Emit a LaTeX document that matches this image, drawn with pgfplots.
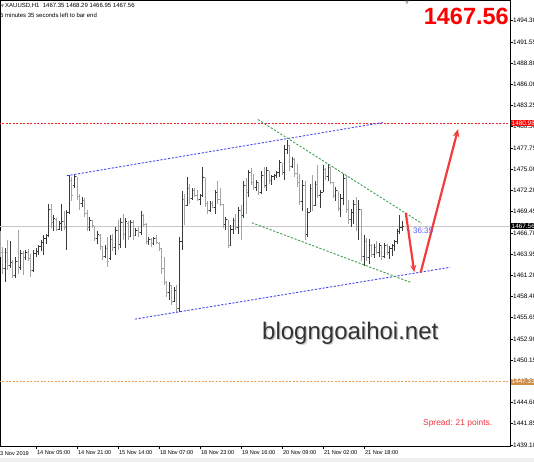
\documentclass[border=0pt]{standalone}
\usepackage{fontspec}
\setmainfont{Liberation Sans}
\newfontfamily\dejavu{DejaVu Sans}
\usepackage{pgfplots}
\pgfplotsset{compat=1.18}
\usepackage{pgfplotstable}
\usetikzlibrary{arrows.meta}
\definecolor{upc}{HTML}{3A3A3A}
\definecolor{dnc}{HTML}{A4A4A4}
\definecolor{chanblue}{HTML}{4848F0}
\definecolor{chgreen}{HTML}{3E9E4E}
\definecolor{lvlred}{rgb}{0.95,0.15,0.15}
\definecolor{lvlorg}{rgb}{0.94,0.62,0.30}
\definecolor{boxorg}{HTML}{D08C48}
\definecolor{arrowred}{HTML}{F53A3A}
\definecolor{spreadred}{HTML}{F0323C}
\definecolor{timerblue}{HTML}{5A5AFF}
\definecolor{wmark}{HTML}{323232}
\definecolor{curline}{HTML}{C8C8C8}

\pgfdeclareplotmark{otick}{\pgfpathmoveto{\pgfqpoint{-1.4pt}{0pt}}\pgfpathlineto{\pgfqpoint{0pt}{0pt}}\pgfusepathqstroke}
\pgfdeclareplotmark{ctick}{\pgfpathmoveto{\pgfqpoint{0pt}{0pt}}\pgfpathlineto{\pgfqpoint{1.4pt}{0pt}}\pgfusepathqstroke}

\pgfplotstableread{
i O H L C
-14 1466.5 1466.9 1463.6 1464.2
-13 1464.2 1464.9 1461.4 1462.0
-12 1462.0 1464.7 1460.3 1464.1
-11 1464.1 1465.8 1461.9 1462.5
-10 1462.5 1465.6 1462.1 1462.8
-9 1462.8 1463.2 1460.8 1461.2
-8 1461.2 1463.6 1460.8 1463.0
-7 1463.0 1467.1 1461.4 1462.2
-6 1462.2 1464.5 1461.9 1464.0
-5 1464.0 1464.3 1461.2 1463.5
-4 1463.5 1464.5 1463.2 1464.2
-3 1464.2 1464.6 1463.0 1463.4
-2 1463.4 1464.0 1461.0 1461.8
-1 1461.8 1464.5 1461.7 1464.0
0 1464.0 1464.7 1463.6 1464.3
1 1464.3 1465.1 1463.8 1464.9
2 1464.9 1465.8 1464.3 1465.5
3 1465.5 1466.4 1463.8 1466.0
4 1466.0 1466.6 1465.3 1466.4
5 1466.4 1470.5 1466.2 1469.8
6 1469.8 1470.5 1467.3 1468.0
7 1468.0 1469.0 1466.9 1468.6
8 1468.4 1468.6 1466.9 1467.2
9 1467.2 1468.2 1467.1 1467.9
10 1467.9 1470.5 1466.9 1468.2
11 1468.2 1469.5 1467.1 1467.4
12 1467.4 1469.7 1464.5 1469.4
13 1469.4 1474.2 1469.2 1473.5
14 1473.5 1474.0 1470.8 1471.5
15 1472.8 1474.4 1472.5 1474.0
16 1474.0 1474.0 1471.0 1471.4
17 1471.4 1471.8 1469.7 1470.5
18 1470.5 1471.4 1470.1 1470.9
19 1470.9 1471.2 1468.8 1469.2
20 1469.2 1469.7 1466.9 1467.4
21 1467.4 1468.8 1466.9 1468.3
22 1468.3 1468.4 1467.3 1467.6
23 1467.3 1467.6 1465.6 1466.0
24 1466.0 1466.9 1465.3 1466.5
25 1466.4 1466.6 1464.5 1464.9
26 1464.9 1464.9 1463.2 1463.6
27 1463.6 1465.1 1463.4 1464.6
28 1464.6 1466.2 1462.3 1463.0
29 1463.3 1466.4 1463.2 1465.8
30 1465.8 1466.6 1464.3 1464.8
31 1464.8 1467.5 1463.8 1467.0
32 1467.0 1468.4 1464.5 1465.2
33 1465.2 1468.6 1464.7 1468.0
34 1468.0 1469.2 1465.8 1466.5
35 1466.5 1468.6 1464.7 1468.2
36 1467.9 1468.2 1465.8 1466.2
37 1466.2 1468.4 1466.2 1468.0
38 1468.0 1468.4 1465.8 1466.3
39 1466.4 1467.3 1466.3 1467.0
40 1467.0 1467.5 1466.2 1466.8
41 1466.8 1469.5 1466.4 1469.0
42 1469.0 1469.2 1467.5 1467.8
43 1467.8 1468.0 1465.3 1465.6
44 1465.6 1466.2 1465.1 1465.9
45 1465.9 1466.0 1464.9 1465.3
46 1465.3 1466.2 1465.1 1466.0
47 1466.0 1466.4 1465.3 1465.5
48 1465.3 1465.5 1464.3 1464.6
49 1464.6 1464.7 1461.4 1462.0
50 1462.0 1463.6 1459.9 1460.3
51 1460.3 1460.4 1458.4 1459.0
52 1459.0 1460.3 1458.0 1459.8
53 1459.8 1459.8 1457.3 1457.8
54 1457.8 1459.7 1457.7 1459.2
55 1459.2 1459.9 1456.4 1456.8
56 1456.8 1466.2 1456.4 1465.6
57 1465.6 1472.1 1464.5 1471.0
58 1471.0 1471.8 1467.7 1470.2
59 1470.2 1474.0 1470.2 1472.5
60 1472.5 1473.1 1470.5 1471.2
61 1471.2 1472.5 1471.0 1472.2
62 1472.2 1472.5 1471.4 1471.6
63 1471.6 1472.3 1470.8 1471.1
64 1471.1 1471.8 1470.3 1471.5
65 1471.5 1475.3 1471.4 1473.9
66 1473.9 1473.9 1470.1 1470.5
67 1470.5 1470.8 1469.2 1469.6
68 1469.6 1470.8 1469.5 1470.5
69 1470.5 1470.8 1469.9 1470.0
70 1470.0 1472.3 1469.2 1471.9
71 1471.9 1473.4 1470.5 1471.0
72 1471.0 1472.5 1470.2 1470.4
73 1470.4 1470.4 1467.3 1467.8
74 1467.8 1468.8 1467.1 1468.4
75 1468.4 1468.4 1464.7 1465.1
76 1465.1 1467.7 1465.0 1467.2
77 1467.2 1468.6 1466.6 1468.3
78 1468.3 1469.2 1467.1 1467.4
79 1467.4 1470.1 1466.6 1469.6
80 1469.6 1470.3 1465.8 1468.9
81 1468.9 1473.4 1468.6 1472.8
82 1472.8 1473.8 1469.2 1471.9
83 1471.9 1474.9 1471.4 1474.5
84 1474.5 1475.1 1472.9 1473.2
85 1473.2 1474.4 1472.3 1472.6
86 1472.6 1473.6 1472.1 1473.3
87 1473.3 1473.3 1471.6 1472.0
88 1472.0 1474.7 1471.8 1474.2
89 1474.2 1475.3 1472.5 1472.9
90 1472.9 1475.3 1472.1 1474.8
91 1474.8 1474.8 1473.1 1473.5
92 1473.5 1474.2 1472.9 1474.0
93 1474.0 1474.4 1473.6 1474.2
94 1474.2 1474.7 1473.8 1474.5
95 1474.5 1476.2 1474.0 1475.8
96 1475.8 1475.8 1474.2 1474.6
97 1474.6 1478.1 1473.6 1477.6
98 1477.6 1478.8 1477.0 1478.1
99 1478.1 1478.1 1474.7 1475.3
100 1475.3 1476.6 1475.1 1476.2
101 1476.2 1476.4 1474.0 1474.4
102 1474.4 1475.7 1472.7 1473.2
103 1473.2 1474.4 1470.3 1470.8
104 1470.8 1473.6 1469.5 1472.9
105 1472.9 1473.4 1465.8 1466.5
106 1466.5 1469.9 1466.2 1469.4
107 1469.4 1473.1 1469.4 1472.5
108 1472.5 1474.2 1469.5 1470.2
109 1470.2 1473.4 1470.2 1473.0
110 1473.0 1475.5 1471.2 1471.6
111 1471.6 1472.3 1469.9 1472.0
112 1472.0 1475.5 1472.0 1474.9
113 1474.9 1475.1 1473.6 1474.0
114 1474.0 1475.7 1473.4 1475.2
115 1475.2 1475.2 1473.0 1473.3
116 1473.3 1473.3 1471.2 1471.6
117 1471.6 1472.7 1470.8 1472.2
118 1472.2 1472.2 1469.5 1469.9
119 1469.9 1471.8 1468.8 1471.2
120 1471.2 1474.4 1470.3 1473.8
121 1473.8 1474.2 1469.3 1469.8
122 1469.8 1471.0 1467.9 1468.4
123 1468.4 1469.8 1467.5 1469.3
124 1469.3 1471.0 1467.9 1470.4
125 1470.4 1471.4 1466.9 1467.5
126 1467.5 1471.0 1465.8 1469.8
127 1469.8 1469.8 1463.0 1463.6
128 1463.6 1466.4 1462.4 1465.6
129 1465.6 1466.0 1463.0 1463.5
130 1463.5 1465.9 1462.6 1465.1
131 1465.1 1465.3 1463.5 1463.9
132 1463.9 1465.2 1463.4 1464.8
133 1464.8 1465.6 1463.9 1464.1
134 1464.1 1465.4 1463.6 1465.0
135 1465.0 1465.0 1463.2 1463.6
136 1463.6 1465.4 1463.5 1465.1
137 1465.1 1465.3 1463.8 1464.2
138 1464.2 1465.0 1463.3 1464.6
139 1464.6 1465.2 1463.7 1465.0
140 1465.0 1465.8 1464.3 1465.6
141 1465.6 1467.2 1465.2 1466.9
142 1466.9 1469.0 1466.5 1467.35
143 1467.35 1468.29 1466.95 1467.56
}\bars

\pgfplotsset{
  barbody/.style={only marks, mark=otick, mark options={line width=1pt},
    error bars/.cd, y dir=both, y explicit, error mark=none,
    error bar style={line width=1pt}},
  barclose/.style={only marks, mark=ctick, mark options={line width=1pt}},
  upf/.style={x filter/.expression={\thisrow{C}<\thisrow{O} ? nan : x}},
  dnf/.style={x filter/.expression={\thisrow{C}<\thisrow{O} ? x : nan}},
}

\begin{document}
\begin{tikzpicture}
\begin{axis}[
  at={(0pt,0pt)}, anchor=south west,
  scale only axis, width=510pt, height=445.5pt,
  xmin=-14.05, xmax=184.98, ymin=1438.97, ymax=1496.93,
  axis line style={black, line width=0.8pt},
  xtick={0,16,32,48,64,80,96,112,128},
  xticklabels={14 Nov 05:00,14 Nov 21:00,15 Nov 14:00,18 Nov 07:00,18 Nov 23:00,19 Nov 16:00,20 Nov 09:00,21 Nov 02:00,21 Nov 18:00},
  ytick={1439.10,1441.86,1444.62,1447.38,1450.14,1452.90,1455.66,1458.42,1461.18,1463.94,1466.70,1469.46,1472.22,1474.98,1477.74,1480.50,1483.26,1486.02,1488.78,1491.54,1494.30},
  yticklabels={1439.10,1441.85,1444.60,1447.35,1450.15,1452.90,1455.65,1458.40,1461.20,1463.95,1466.70,1469.45,1472.20,1475.00,1477.75,1480.50,1483.25,1486.00,1488.80,1491.55,1494.30},
  xtick pos=left, ytick pos=right,
  tick align=outside,
  major tick length=3pt,
  tick style={black, line width=0.6pt},
  xticklabel style={font=\fontsize{5.6}{6}\selectfont, anchor=north west, inner sep=0pt, xshift=0.8pt, yshift=-1.5pt},
  yticklabel style={font=\fontsize{6.4}{7}\selectfont, anchor=west, inner sep=0pt},
  /pgf/number format/assume math mode=true,
  clip mode=individual,
]
% reference lines
\addplot[curline, line width=0.8pt] coordinates {(-20,1467.56) (200,1467.56)};
\addplot[draw=lvlred, line width=1.1pt, dash pattern=on 2pt off 1.5pt] coordinates {(-20,1480.98) (200,1480.98)};
\addplot[draw=lvlorg, line width=1.1pt, dash pattern=on 2pt off 1.5pt] coordinates {(-20,1447.33) (200,1447.33)};

% bars
\addplot[upc, upf, barbody] table[x=i, y=O, y error plus expr=\thisrow{H}-\thisrow{O}, y error minus expr=\thisrow{O}-\thisrow{L}] {\bars};
\addplot[upc, upf, barclose] table[x=i, y=C] {\bars};
\addplot[dnc, dnf, barbody] table[x=i, y=O, y error plus expr=\thisrow{H}-\thisrow{O}, y error minus expr=\thisrow{O}-\thisrow{L}] {\bars};
\addplot[dnc, dnf, barclose] table[x=i, y=C] {\bars};

% channel lines
\addplot[chanblue, line width=0.9pt, dash pattern=on 2.2pt off 1.6pt] coordinates {(12.0,1474.13) (135.4,1481.06)};
\addplot[chanblue, line width=0.9pt, dash pattern=on 2.2pt off 1.6pt] coordinates {(38.6,1455.48) (161.6,1462.22)};
\addplot[chgreen, line width=0.9pt, dash pattern=on 2.2pt off 1.6pt] coordinates {(86.6,1481.45) (150.6,1467.92)};
\addplot[chgreen, line width=0.9pt, dash pattern=on 2.2pt off 1.6pt] coordinates {(84.2,1468.02) (146.6,1460.21)};

% arrows
\addplot[arrowred, line width=2.2pt, -{Stealth[length=7pt,width=6pt]}] coordinates {(144.3,1469.32) (147.6,1461.6)};
\addplot[arrowred, line width=2.2pt, -{Stealth[length=8pt,width=6.5pt]}] coordinates {(150.1,1461.52) (164.7,1480.2)};
\end{axis}

% annotations
\fill[gray!12] (0pt,-16pt) rectangle (534pt,-12pt);
\node[anchor=north west, inner sep=0pt, font=\fontsize{5.6}{6}\selectfont] at (-3.1pt,-4.9pt) {13 Nov 2019};
\node[anchor=west, inner sep=0pt, text=gray, font=\dejavu\fontsize{4}{4}\selectfont] at (0.6pt,440pt) {▼};
\node[anchor=west, inner sep=0pt, font=\fontsize{6}{6}\selectfont] at (5pt,440pt) {XAUUSD,H1\ \ 1467.35 1468.29 1466.95 1467.56};
\node[anchor=west, inner sep=0pt, font=\fontsize{6}{6}\selectfont] at (-3.34pt,431pt) {36 minutes 35 seconds left to bar end};
\node[inner sep=0pt, text=gray!70, font=\dejavu\fontsize{5}{5}\selectfont] at (407pt,442.5pt) {▼};
\node[anchor=east, inner sep=0pt, font=\bfseries\fontsize{23.5}{24}\selectfont, text=red] at (509pt,429.3pt) {1467.56};
\node[anchor=base west, inner sep=0pt, font=\fontsize{24}{24}\selectfont, text=gray!40] at (263.3pt,105.2pt) {blogngoaihoi.net};
\node[anchor=base west, inner sep=0pt, font=\fontsize{24}{24}\selectfont, text=wmark] at (262pt,106.5pt) {blogngoaihoi.net};
\node[anchor=west, inner sep=0pt, font=\fontsize{8.4}{9}\selectfont, text=spreadred] at (423pt,22.7pt) {Spread: 21 points.};
\node[anchor=west, inner sep=0pt, font=\fontsize{8}{8}\selectfont, text=timerblue] at (408pt,215.3pt) {- 36:35};
\node[anchor=west, fill=black, text=white, inner xsep=1pt, inner ysep=0.8pt, font=\fontsize{6.4}{7}\selectfont] at (510.5pt,219.7pt) {1467.56};
\node[anchor=west, fill=red, text=white, inner xsep=1pt, inner ysep=0.8pt, font=\fontsize{6.4}{7}\selectfont] at (510.5pt,322.9pt) {1480.98};
\node[anchor=west, fill=boxorg, text=white, inner xsep=1pt, inner ysep=0.8pt, font=\fontsize{6.4}{7}\selectfont] at (510.5pt,64.3pt) {1447.33};
\pgfresetboundingbox
\useasboundingbox (0pt,-16pt) rectangle (534pt,446pt);
\end{tikzpicture}
\end{document}
